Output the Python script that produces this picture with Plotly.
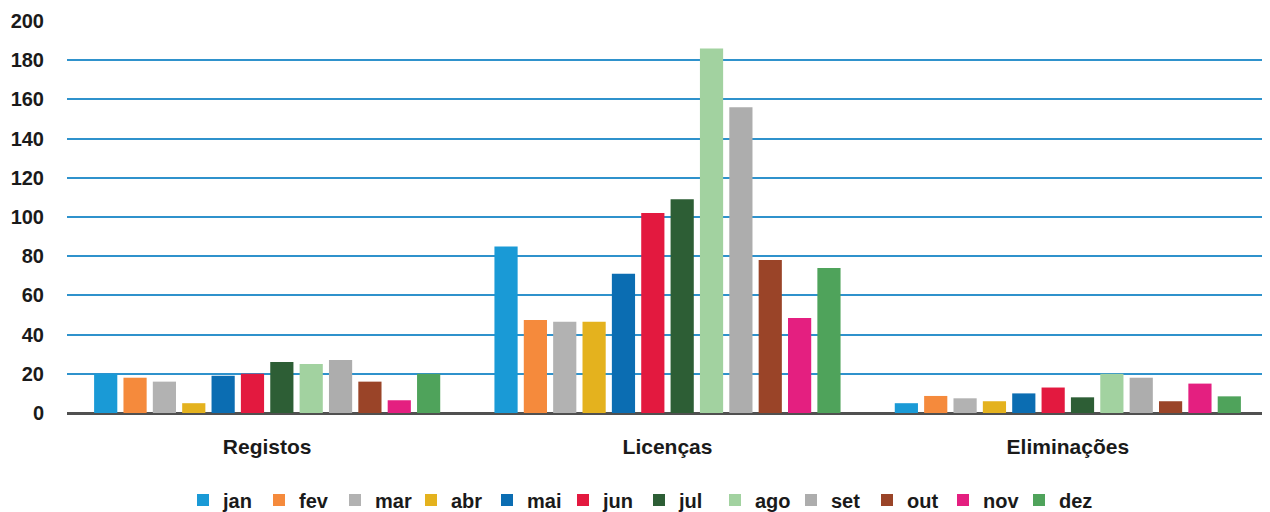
import plotly.graph_objects as go

categories = ["Registos", "Licenças", "Eliminações"]
months = ["jan", "fev", "mar", "abr", "mai", "jun", "jul", "ago", "set", "out", "nov", "dez"]

# one list per month: Registos, Licenças, Eliminações
jan = [20, 85, 5]
fev = [18, 47.5, 8.7]
mar = [16, 46.5, 7.5]
abr = [5, 46.5, 6]
mai = [19, 71, 10]
jun = [20, 102, 13]
jul = [26, 109, 8]
ago = [25, 186, 20]
set_ = [27, 156, 18]
out = [16, 78, 6]
nov = [6.5, 48.5, 15]
dez = [20, 74, 8.5]

values = [jan, fev, mar, abr, mai, jun, jul, ago, set_, out, nov, dez]
colors = [
    "#1a9ad6", "#f58a3c", "#b2b2b2", "#e4b21e", "#0b6db2", "#e3193f",
    "#2d5e35", "#a2d2a0", "#adadad", "#9a4428", "#e41f80", "#4fa35b",
]

FONT = "Liberation Sans Narrow, Arial Narrow, Liberation Sans, Arial, sans-serif"

fig = go.Figure()
for name, vals, color in zip(months, values, colors):
    fig.add_trace(
        go.Bar(
            x=categories,
            y=vals,
            name=name,
            marker=dict(color=color, line=dict(width=0)),
        )
    )

# the page body adds an 8px margin, so the figure is sized to fit the window
fig.update_layout(
    width=1262,
    height=504,
    barmode="group",
    bargap=0.12,
    bargroupgap=0.21,
    margin=dict(l=59, r=2, t=13, b=99),
    paper_bgcolor="white",
    plot_bgcolor="white",
    font=dict(family=FONT, color="#1a1a1a", size=20),
    xaxis=dict(
        automargin=False,
        showgrid=False,
        showline=True,
        linecolor="#505050",
        linewidth=2,
        ticks="",
        tickfont=dict(family=FONT, size=21, color="#1a1a1a", weight="bold"),
        ticklabelstandoff=14,
    ),
    yaxis=dict(
        automargin=False,
        range=[0, 200],
        dtick=20,
        showgrid=True,
        gridcolor="#2f92cc",
        gridwidth=1.5,
        zeroline=True,
        zerolinecolor="#505050",
        zerolinewidth=2,
        ticks="",
        tickfont=dict(family=FONT, size=20, color="#1a1a1a", weight="bold"),
        ticklabelstandoff=22,
    ),
    legend=dict(
        orientation="h",
        x=0.5,
        xanchor="center",
        xref="container",
        y=0.024,
        yanchor="middle",
        yref="container",
        font=dict(family=FONT, size=20, color="#1a1a1a", weight="bold"),
        itemwidth=30,
        entrywidth=31,
        entrywidthmode="pixels",
        tracegroupgap=0,
    ),
)

fig.write_html("out.html")
